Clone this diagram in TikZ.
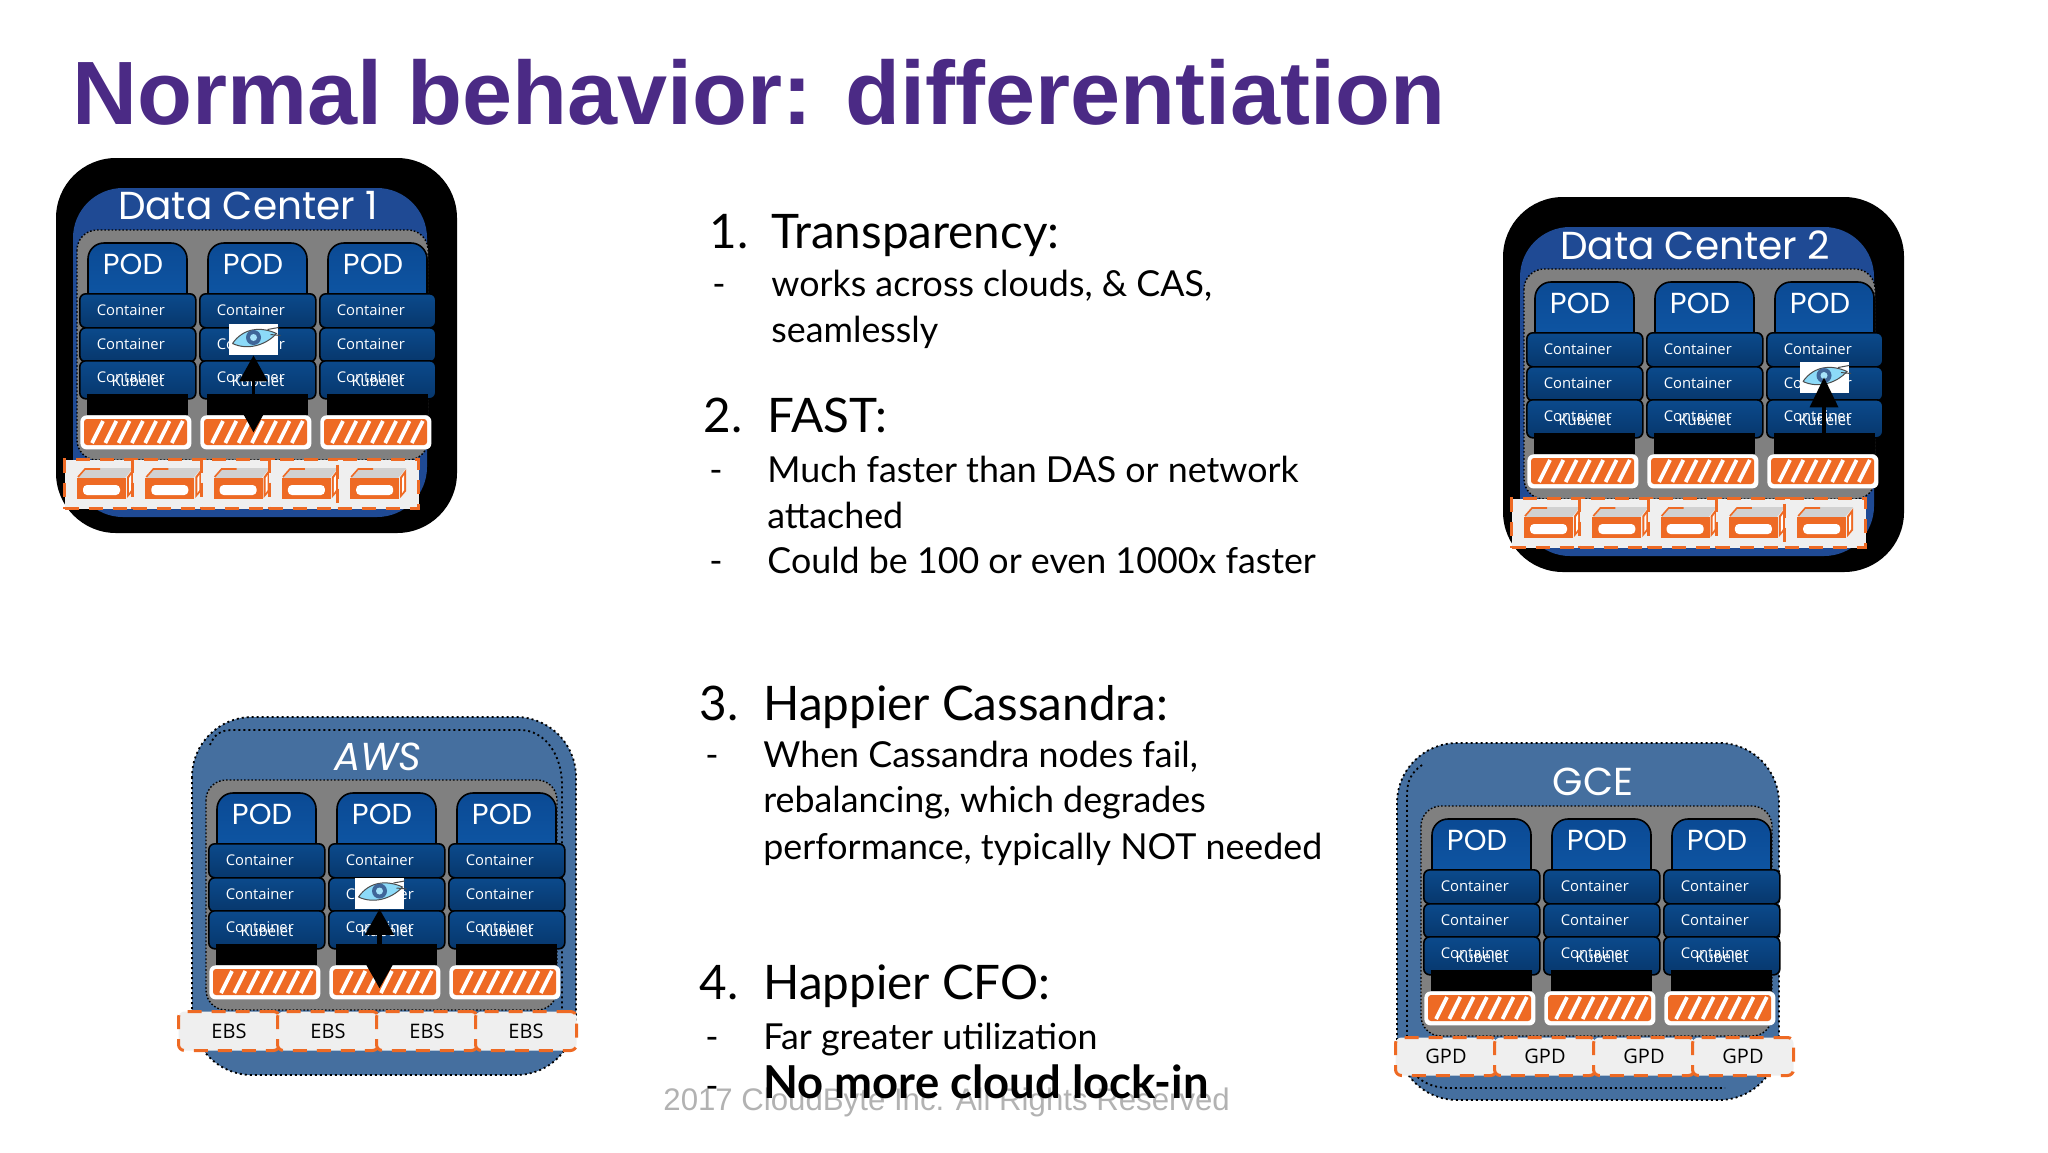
\documentclass[tikz,border=0pt]{standalone}
\usepackage{fontspec}
\setmainfont{Lato}
\newfontfamily\TitleFont{Liberation Sans}
\newfontfamily\CloudFont{Poppins}
\newfontfamily\BoxFont{Open Sans}
\usetikzlibrary{arrows.meta}

\definecolor{slidepurple}{HTML}{4B2A85}
\definecolor{ssdorange}{HTML}{EE6A24}
\definecolor{dcblue}{HTML}{1F4A94}
\definecolor{cloudblue}{HTML}{456F9F}
\definecolor{podgrey}{HTML}{808080}
\definecolor{stripgrey}{HTML}{EFEFEF}
\definecolor{podtop}{HTML}{0B4A94}
\definecolor{podlow}{HTML}{0E55A3}
\definecolor{conttop}{HTML}{0B4A8C}
\definecolor{contlow}{HTML}{07376C}

\tikzset{
  headtext/.style={anchor=base west, inner sep=0pt, font=\fontsize{23.8}{23.8}\selectfont},
  subtext/.style={anchor=base west, inner sep=0pt, font=\fontsize{17.9}{17.9}\selectfont},
  cloudname/.style={text=white, inner sep=0pt, font=\CloudFont\fontsize{19.5}{19.5}\selectfont},
  dotline/.style={draw=black, dash pattern=on 1pt off 1.5pt, line width=.9pt},
  greybox/.style={fill=podgrey, draw=black, dash pattern=on .8pt off 1pt, line width=.7pt, rounded corners=10pt},
  podtab/.style={draw=black, line width=.8pt, top color=podtop, bottom color=podlow, rounded corners=8pt},
  podname/.style={text=white, inner sep=0pt, font=\CloudFont\fontsize{14.5}{14.5}\selectfont},
  contbox/.style={anchor=north west, draw=black, line width=.8pt, rounded corners=3pt, top color=conttop, bottom color=contlow, text=white, inner xsep=0pt, inner ysep=0pt, text width=58pt, minimum height=17pt, align=left, font=\BoxFont\fontsize{7.4}{7.4}\selectfont},
  kubename/.style={text=white, inner sep=0pt, font=\BoxFont\fontsize{7.4}{7.4}\selectfont},
  ssdbar/.style={anchor=north west, fill=white, rounded corners=3pt, minimum width=55.5pt, minimum height=17pt, inner sep=0pt},
  stripcell/.style={anchor=north west, fill=stripgrey, draw=ssdorange, line width=1.5pt, dash pattern=on 7pt off 5pt, inner sep=0pt, text=black, font=\BoxFont\fontsize{10}{10}\selectfont},
  eyebox/.style={fill=white, minimum width=24.5pt, minimum height=15.5pt, inner sep=0pt},
  twohead/.style={line width=1.8pt, {Triangle[width=14pt,length=13pt]}-{Triangle[width=14pt,length=13pt]}},
}

\begin{document}
\begin{tikzpicture}[x=.5pt, y=-.5pt]

  %% one grey block: three pods with their containers and drives
  \newcommand\PodStack[3]{
    \begin{scope}[shift={(#2,#3)}]
      \draw[greybox] (77,230) rectangle (428,460);
      \foreach \k/\xx in {1/0,2/120,3/240}{
        \draw[podtab] (88+\xx,297) -- (88+\xx,243) -- (187+\xx,243) -- (187+\xx,297);
        \node[podname] (#1pod\k) at (133+\xx,264) {POD};
        \node[contbox] (#1top\k) at (79+\xx,293) {\hspace*{8.5pt}\raisebox{1.2pt}{Container}};
        \node[contbox] (#1mid\k) at (79+\xx,327) {\hspace*{8.5pt}\raisebox{1.2pt}{Container}};
        \node[contbox, minimum height=19pt] (#1low\k) at (79+\xx,360) {\hspace*{8.5pt}\raisebox{2.4pt}{Container}};
        \node[kubename] (#1kube\k) at (138+\xx,381) {Kubelet};
        \fill[black] (87+\xx,394) rectangle (188+\xx,415);
        \node[ssdbar] (#1ssd\k) at (80+\xx,415) {};
        \fill[ssdorange, rounded corners=1.5pt] (84+\xx,419) rectangle (187+\xx,445);
        \foreach \s in {0,...,6}
          \draw[white, line width=1.9pt] (92+\xx+13.3*\s,443) -- (103+\xx+13.3*\s,421);
      }
    \end{scope}
  }

  %% black frame and blue face of a data center
  \newcommand\DataCenter[4]{
    \begin{scope}[shift={(#2,#3)}]
      \fill[black, rounded corners=30pt] (56,158) rectangle (457,533);
      \fill[dcblue, rounded corners=25pt] (73,188) rectangle (427,517);
      \node[cloudname] (#1name) at (248,206) {#4};
    \end{scope}
    \PodStack{#1}{#2}{#3}
    \begin{scope}[shift={(#2,#3)}]
      \foreach \k/\xx/\w in {1/0/72,2/68.3/72,3/136.6/72,4/204.9/72,5/273.2/81}{
        \node[stripcell, minimum width=\w*.5pt, minimum height=24.5pt] (#1disk\k) at (63+\xx,458) {};
        \fill[black!18] (78+\xx,478) -- (86+\xx,468) -- (133+\xx,468) -- (125+\xx,478) -- cycle;
        \draw[ssdorange, line width=.8pt] (78+\xx,477) -- (85+\xx,469) -- (100+\xx,469);
        \fill[ssdorange] (77+\xx,478) rectangle (126+\xx,499);
        \fill[white, rounded corners=2pt] (83+\xx,485) rectangle (120+\xx,495);
        \fill[ssdorange] (127+\xx,477) -- (133+\xx,469) -- (133+\xx,491) -- (127+\xx,498) -- cycle;
        \fill[white] (129+\xx,478) -- (131+\xx,475) -- (131+\xx,490) -- (129+\xx,493) -- cycle;
      }
    \end{scope}
  }

  %% the Cassandra eye
  \newcommand\EyeIcon[3]{
    \node[eyebox] (#1) at (#2,#3) {};
    \begin{scope}[shift={(#2,#3)}]
      \fill[cyan!45!white, draw=black!70, line width=.5pt] (-21,4) .. controls (-10,-12) and (8,-13) .. (23,-6) .. controls (12,6) and (-6,11) .. (-21,4);
      \fill[cyan!50!blue!70!black] (0,-2) circle (7.5);
      \fill[cyan!35!white] (0,-2) circle (3.5);
      \draw[black!70, line width=.5pt] (14,-10) -- (25,-12) (17,-5) -- (27,-4);
    \end{scope}
  }

  \useasboundingbox (0,0) rectangle (2048,1152);

  \node[anchor=base west, inner sep=0pt, text=slidepurple, font=\TitleFont\bfseries\fontsize{45}{45}\selectfont] (title) at (72,124) {Normal behavior: differentiation};

  %% copyright line stays behind the list
  \node[anchor=base west, inner sep=0pt, text=black!30, font=\TitleFont\fontsize{15.6}{15.6}\selectfont] (mark) at (663,1110) {2017 CloudByte Inc. All Rights Reserved};

  %% text column
  \node[headtext] (n1) at (709,248) {1.};
  \node[headtext] (h1) at (771,248) {Transparency:};
  \node[subtext] (d1) at (712,296) {-};
  \node[subtext] (s1) at (771,296) {works across clouds, \& CAS,};
  \node[subtext] (s1b) at (771,342) {seamlessly};

  \node[headtext] (n2) at (703,432) {2.};
  \node[headtext] (h2) at (767,432) {FAST:};
  \node[subtext] (d2) at (709,482) {-};
  \node[subtext] (s2) at (767,482) {Much faster than DAS or network};
  \node[subtext] (s2b) at (767,528) {attached};
  \node[subtext] (d2b) at (709,573) {-};
  \node[subtext] (s2c) at (767,573) {Could be 100 or even 1000x faster};

  \node[headtext] (n3) at (699,720) {3.};
  \node[headtext] (h3) at (763,720) {Happier Cassandra:};
  \node[subtext] (d3) at (705,767) {-};
  \node[subtext] (s3) at (763,767) {When Cassandra nodes fail,};
  \node[subtext] (s3b) at (763,812) {rebalancing, which degrades};
  \node[subtext] (s3c) at (763,859) {performance, typically NOT needed};

  \node[headtext] (n4) at (699,999) {4.};
  \node[headtext] (h4) at (763,999) {Happier CFO:};
  \node[subtext] (d4) at (705,1049) {-};
  \node[subtext] (s4) at (763,1049) {Far greater utilization};
  \node[subtext] (d4b) at (705,1098) {-};
  \node[subtext, font=\bfseries\fontsize{22.7}{22.7}\selectfont] (s4b) at (763,1098) {No more cloud lock-in};

  %% data centers
  \DataCenter{dca}{0}{0}{Data Center 1}
  \DataCenter{dcb}{1447}{39}{Data Center 2}

  \EyeIcon{dcaeye}{253.5}{339.5}
  \draw[twohead] (dcaeye.south) -- (dcaeye.south |- dcassd2.center);

  \EyeIcon{dcbeye}{1824}{377.5}
  \draw[twohead, shorten <=-8pt, {Triangle[width=14pt,length=15pt]}-{Triangle[width=3pt,length=3pt]}] (dcbeye.south) -- (dcbeye.south |- dcbssd3.north);

  %% AWS
  \fill[cloudblue, dotline, rounded corners=30pt] (192,717) rectangle (576,1075);
  \draw[dotline] (210,745) .. controls (214,735) and (220,730) .. (232,730) -- (520,730) .. controls (545,730) and (562,755) .. (562,785) -- (562,1012);
  \node[cloudname] (awsname) at (378,757) {\itshape AWS};
  \PodStack{aws}{129}{550}
  \foreach \k/\xx/\w in {1/0/101,2/99/101,3/198/101,4/297/101}
    \node[stripcell, rounded corners=3pt, minimum width=\w*.5pt, minimum height=19.5pt] (ebs\k) at (177+\xx,1010) {EBS};
  \EyeIcon{awseye}{379.5}{893}
  \draw[twohead, line width=2.2pt] (awseye.south) -- ([yshift=-3pt]awseye.south |- awsssd2.center);

  %% GCE
  \fill[cloudblue, dotline, rounded corners=30pt] (1397,743) rectangle (1779,1100);
  \draw[dotline] (1422,765) .. controls (1412,772) and (1407,780) .. (1407,795) -- (1407,1050) .. controls (1407,1075) and (1425,1088) .. (1450,1088) -- (1725,1088);
  \node[cloudname] (gcename) at (1593,782) {GCE};
  \PodStack{gce}{1344}{576}
  \foreach \k/\xx/\w in {1/0/101,2/99/101,3/198/101,4/297/101}
    \node[stripcell, rounded corners=3pt, minimum width=\w*.5pt, minimum height=19pt] (gpd\k) at (1394+\xx,1036) {GPD};
\end{tikzpicture}
\end{document}
